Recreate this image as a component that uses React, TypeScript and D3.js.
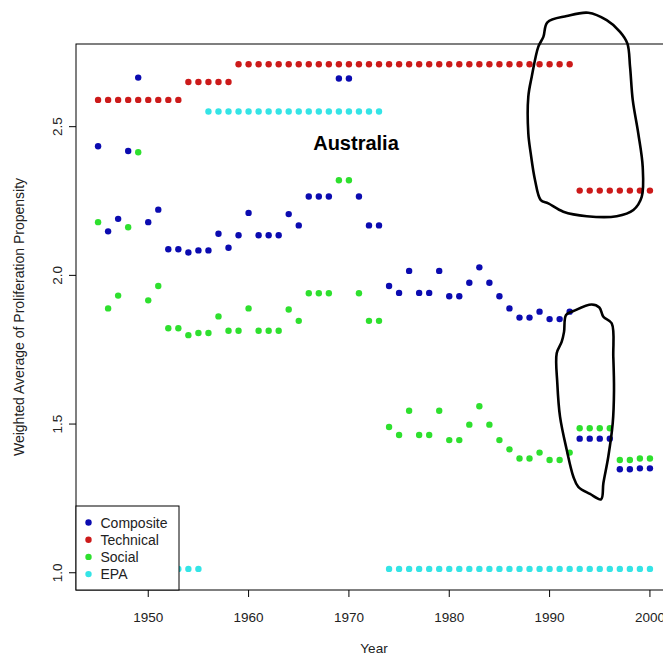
import React from "react";
import * as d3 from "d3";

// Weighted average of proliferation propensity, Australia, 1945–2000
const YEARS: number[] = d3.range(1945, 2001);

const COMPOSITE: number[] = [
  2.434, 2.148, 2.19, 2.418, 2.665, 2.179, 2.221, 2.088, 2.088, 2.077,
  2.084, 2.084, 2.14, 2.093, 2.135, 2.21, 2.135, 2.135, 2.135, 2.206,
  2.168, 2.265, 2.265, 2.265, 2.662, 2.662, 2.265, 2.168, 2.168, 1.964,
  1.941, 2.015, 1.941, 1.941, 2.015, 1.93, 1.93, 1.975, 2.027, 1.975,
  1.93, 1.889, 1.858, 1.858, 1.878, 1.853, 1.853, 1.878, 1.451, 1.451,
  1.451, 1.451, 1.348, 1.348, 1.351, 1.351,
];

const TECHNICAL: number[] = [
  2.59, 2.59, 2.59, 2.59, 2.59, 2.59, 2.59, 2.59, 2.59,
  2.65, 2.65, 2.65, 2.65, 2.65,
  2.71, 2.71, 2.71, 2.71, 2.71, 2.71, 2.71, 2.71, 2.71, 2.71,
  2.71, 2.71, 2.71, 2.71, 2.71, 2.71, 2.71, 2.71, 2.71, 2.71,
  2.71, 2.71, 2.71, 2.71, 2.71, 2.71, 2.71, 2.71, 2.71, 2.71,
  2.71, 2.71, 2.71, 2.71,
  2.285, 2.285, 2.285, 2.285, 2.285, 2.285, 2.285, 2.285,
];

const SOCIAL: number[] = [
  2.179, 1.889, 1.932, 2.162, 2.414, 1.916, 1.964, 1.822, 1.822, 1.799,
  1.806, 1.806, 1.862, 1.814, 1.814, 1.889, 1.814, 1.814, 1.814, 1.885,
  1.847, 1.94, 1.94, 1.94, 2.32, 2.32, 1.94, 1.847, 1.847, 1.49,
  1.463, 1.545, 1.463, 1.463, 1.545, 1.446, 1.446, 1.498, 1.56, 1.498,
  1.446, 1.415, 1.384, 1.384, 1.404, 1.379, 1.379, 1.404, 1.486, 1.486,
  1.486, 1.486, 1.379, 1.379, 1.384, 1.384,
];

const EPA: number[] = [
  1.013, 1.013, 1.013, 1.013, 1.013, 1.013, 1.013, 1.013, 1.013, 1.013, 1.013,
  2.551, 2.551, 2.551, 2.551, 2.551, 2.551, 2.551, 2.551, 2.551,
  2.551, 2.551, 2.551, 2.551, 2.551, 2.551, 2.551, 2.551, 2.551,
  1.013, 1.013, 1.013, 1.013, 1.013, 1.013, 1.013, 1.013, 1.013,
  1.013, 1.013, 1.013, 1.013, 1.013, 1.013, 1.013, 1.013, 1.013,
  1.013, 1.013, 1.013, 1.013, 1.013, 1.013, 1.013, 1.013, 1.013,
];

const SERIES_NAMES: string[] = ["Composite", "Technical", "Social", "EPA"];
const SERIES_VALUES: number[][] = [COMPOSITE, TECHNICAL, SOCIAL, EPA];
const SERIES_COLORS: string[] = ["#0b0bb0", "#cc1a1a", "#2ee02e", "#34e4e6"];

const X_TICKS: number[] = [1950, 1960, 1970, 1980, 1990, 2000];
const Y_TICKS: number[] = [1.0, 1.5, 2.0, 2.5];

// Hand-drawn highlight loops, in (year, value) units
const LOOP_TECH: [number, number][] = [
  [1989.78, 2.851], [1991.71, 2.872], [1993.86, 2.883], [1995.69, 2.858],
  [1997.02, 2.819], [1997.75, 2.78], [1998.02, 2.701], [1998.29, 2.589],
  [1998.84, 2.477], [1999.28, 2.365], [1999.18, 2.264], [1998.35, 2.22],
  [1996.69, 2.199], [1993.7, 2.199], [1991.37, 2.214], [1989.87, 2.242],
  [1989.12, 2.253], [1988.55, 2.32], [1988.12, 2.41], [1987.88, 2.477],
  [1987.88, 2.601], [1988.22, 2.668], [1988.88, 2.769], [1989.38, 2.802],
];

const LOOP_DROP: [number, number][] = [
  [1991.64, 1.867], [1992.37, 1.88], [1994.2, 1.902], [1994.96, 1.892],
  [1995.36, 1.861], [1996.19, 1.839], [1996.35, 1.726], [1996.42, 1.614],
  [1996.29, 1.502], [1995.85, 1.39], [1995.36, 1.301], [1995.13, 1.247],
  [1994.03, 1.265], [1992.86, 1.289], [1992.37, 1.323], [1991.71, 1.413],
  [1991.04, 1.525], [1990.77, 1.637], [1990.71, 1.738], [1991.21, 1.777],
  [1991.44, 1.81],
];

const W = 663;
const H = 656;
const PLOT = { left: 76, right: 672, top: 44, bottom: 590 };
const FONT = "'Liberation Sans', Arial, Helvetica, sans-serif";

export default function App() {
  const x = d3.scaleLinear().domain([1942.8, 2002.2]).range([PLOT.left, PLOT.right]);
  const y = d3.scaleLinear().domain([0.942, 2.778]).range([PLOT.bottom, PLOT.top]);

  const loopPath = d3
    .line<[number, number]>()
    .x((d) => x(d[0]))
    .y((d) => y(d[1]))
    .curve(d3.curveCatmullRomClosed.alpha(0.5));

  const legend = { x: PLOT.left, y: 506, w: 103, h: PLOT.bottom - 506 };

  return (
    <svg
      width={W}
      height={H}
      viewBox={`0 0 ${W} ${H}`}
      style={{ position: "absolute", left: 0, top: 0, background: "#fff" }}
      fontFamily={FONT}
    >
      <rect x={0} y={0} width={W} height={H} fill="#fff" />

      {/* points */}
      {SERIES_VALUES.map((vals, si) => (
        <g key={SERIES_NAMES[si]} fill={SERIES_COLORS[si]}>
          {vals.map((v, i) => (
            <circle key={i} cx={x(YEARS[i])} cy={y(v)} r={3.2} />
          ))}
        </g>
      ))}

      {/* plot frame */}
      <rect
        x={PLOT.left}
        y={PLOT.top}
        width={PLOT.right - PLOT.left}
        height={PLOT.bottom - PLOT.top}
        fill="none"
        stroke="#000"
        strokeWidth={1}
      />

      {/* x axis */}
      <g>
        {X_TICKS.map((t) => (
          <g key={t} transform={`translate(${x(t)},0)`}>
            <line y1={PLOT.bottom} y2={PLOT.bottom + 7} stroke="#000" />
            <text y={622} textAnchor="middle" fontSize={13.5} fill="#222">
              {t}
            </text>
          </g>
        ))}
        <text x={(PLOT.left + 672) / 2} y={653} textAnchor="middle" fontSize={13.5} fill="#222">
          Year
        </text>
      </g>

      {/* y axis */}
      <g>
        {Y_TICKS.map((t) => (
          <g key={t} transform={`translate(0,${y(t)})`}>
            <line x1={PLOT.left - 7} x2={PLOT.left} stroke="#000" />
            <text
              transform={`translate(62,0) rotate(-90)`}
              textAnchor="middle"
              fontSize={13.5}
              fill="#222"
            >
              {t.toFixed(1)}
            </text>
          </g>
        ))}
        <text
          transform={`translate(24,${(PLOT.top + PLOT.bottom) / 2}) rotate(-90)`}
          textAnchor="middle"
          fontSize={14}
          fill="#222"
        >
          Weighted Average of Proliferation Propensity
        </text>
      </g>

      {/* title inside the panel */}
      <text x={356} y={149.5} textAnchor="middle" fontSize={20} fontWeight="bold" fill="#000">
        Australia
      </text>

      {/* legend */}
      <g>
        <rect x={legend.x} y={legend.y} width={legend.w} height={legend.h} fill="#fff" stroke="#000" />
        {SERIES_NAMES.map((name, i) => (
          <g key={name} transform={`translate(0,${522.5 + i * 17.2})`}>
            <circle cx={88.5} cy={0} r={3.2} fill={SERIES_COLORS[i]} />
            <text x={100.5} y={5} fontSize={14} fill="#222">
              {name}
            </text>
          </g>
        ))}
      </g>

      {/* highlight loops */}
      <path d={loopPath(LOOP_TECH) ?? ""} fill="none" stroke="#000" strokeWidth={2.6} strokeLinejoin="round" />
      <path d={loopPath(LOOP_DROP) ?? ""} fill="none" stroke="#000" strokeWidth={2.6} strokeLinejoin="round" />
    </svg>
  );
}
